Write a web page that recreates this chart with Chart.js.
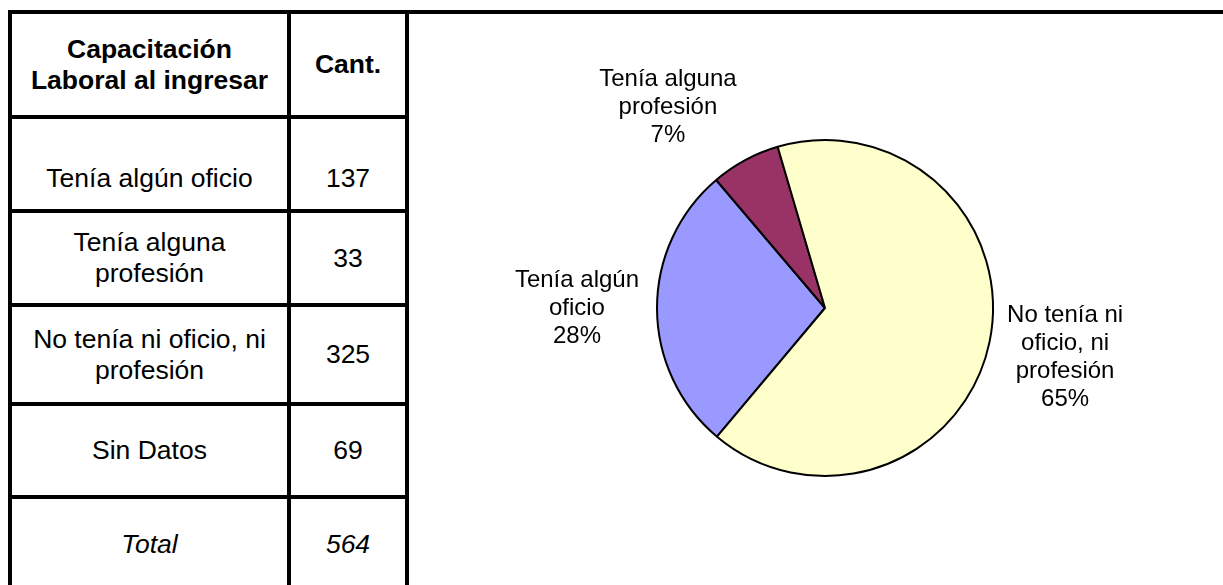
<!DOCTYPE html>
<html>
<head>
<meta charset="utf-8">
<script src="https://cdn.jsdelivr.net/npm/chart.js@4.4.1/dist/chart.umd.min.js"></script>
<style>
    body { margin: 0; background: #fff; overflow: hidden; width: 1223px; height: 585px; position: relative; }
    #tabla {
        position: absolute; left: 8px; top: 10px;
        display: grid; background: #000; padding: 4px; gap: 4px;
        grid-template-columns: 275px 114px;
        grid-template-rows: 101px 90px 90px 95px 89px 90px;
        font-family: "Liberation Sans", Arial, sans-serif; font-size: 26.5px; line-height: 31px; color: #000;
    }
    #tabla div {
        background: #fff; display: flex; align-items: center; justify-content: center;
        text-align: center; padding: 0 10px;
    }
    #tabla .head { font-weight: bold; }
    #tabla .first { padding-top: 28px; }
    #tabla .total { font-style: italic; }
    #marcoTop { position: absolute; left: 405px; top: 10px; width: 818px; height: 4px; background: #000; }
    #chartBox { position: absolute; left: 409px; top: 14px; width: 814px; height: 571px; }
</style>
</head>
<body>
<div id="tabla"></div>
<div id="marcoTop"></div>
<div id="chartBox"><canvas id="pieChart"></canvas></div>
<script>
const headers = ['Capacitación Laboral al ingresar', 'Cant.'];
const categories = ['Tenía algún oficio', 'Tenía alguna profesión', 'No tenía ni oficio, ni profesión', 'Sin Datos'];
const counts = [137, 33, 325, 69];
const totalLabel = 'Total';
const totalCount = 564;

// pie only uses the first three rows (no "Sin Datos")
const pieLabels = [['Tenía algún', 'oficio'], ['Tenía alguna', 'profesión'], ['No tenía ni', 'oficio, ni', 'profesión']];
const pieValues = [137, 33, 325];
const piePercents = ['28%', '7%', '65%'];

// table
const tabla = document.getElementById('tabla');
function cell(text, cls) {
    const d = document.createElement('div');
    d.textContent = text;
    if (cls) d.className = cls;
    tabla.appendChild(d);
}
cell(headers[0], 'head');
cell(headers[1], 'head');
categories.forEach((c, i) => {
    const cls = i === 0 ? 'first' : '';
    cell(c, cls);
    cell(String(counts[i]), cls);
});
cell(totalLabel, 'total');
cell(String(totalCount), 'total');

// labels outside each slice, Excel style
const outsideLabels = {
    id: 'outsideLabels',
    afterDatasetsDraw(chart) {
        const ctx = chart.ctx;
        const arcs = chart.getDatasetMeta(0).data;
        const lh = 28, gap = 18;
        ctx.save();
        ctx.font = '24px "Liberation Sans", Arial, sans-serif';
        ctx.fillStyle = '#000';
        ctx.textAlign = 'center';
        ctx.textBaseline = 'middle';
        arcs.forEach((arc, i) => {
            const lines = pieLabels[i].concat([piePercents[i]]);
            const w = Math.max(...lines.map(l => ctx.measureText(l).width));
            const h = lines.length * lh;
            const mid = (arc.startAngle + arc.endAngle) / 2;
            const px = arc.x + Math.cos(mid) * (arc.outerRadius + gap);
            const py = arc.y + Math.sin(mid) * (arc.outerRadius + gap);
            const cx = px + Math.sign(Math.cos(mid)) * w / 2;
            const cy = py + Math.sin(mid) * h / 2;
            lines.forEach((l, j) => {
                ctx.fillText(l, cx, cy - h / 2 + lh * (j + 0.5));
            });
        });
        ctx.restore();
    }
};

new Chart(document.getElementById('pieChart'), {
    type: 'pie',
    data: {
        labels: pieLabels.map(l => l.join(' ')),
        datasets: [{
            data: pieValues,
            backgroundColor: ['#9999FF', '#993366', '#FFFFCC'],
            borderColor: '#000',
            borderWidth: 2,
            radius: 168,
            rotation: 220
        }]
    },
    options: {
        responsive: true,
        maintainAspectRatio: false,
        animation: false,
        layout: { padding: { left: 241, right: 223, top: 119, bottom: 102 } },
        plugins: {
            legend: { display: false },
            tooltip: { enabled: false }
        }
    },
    plugins: [outsideLabels]
});
</script>
</body>
</html>
